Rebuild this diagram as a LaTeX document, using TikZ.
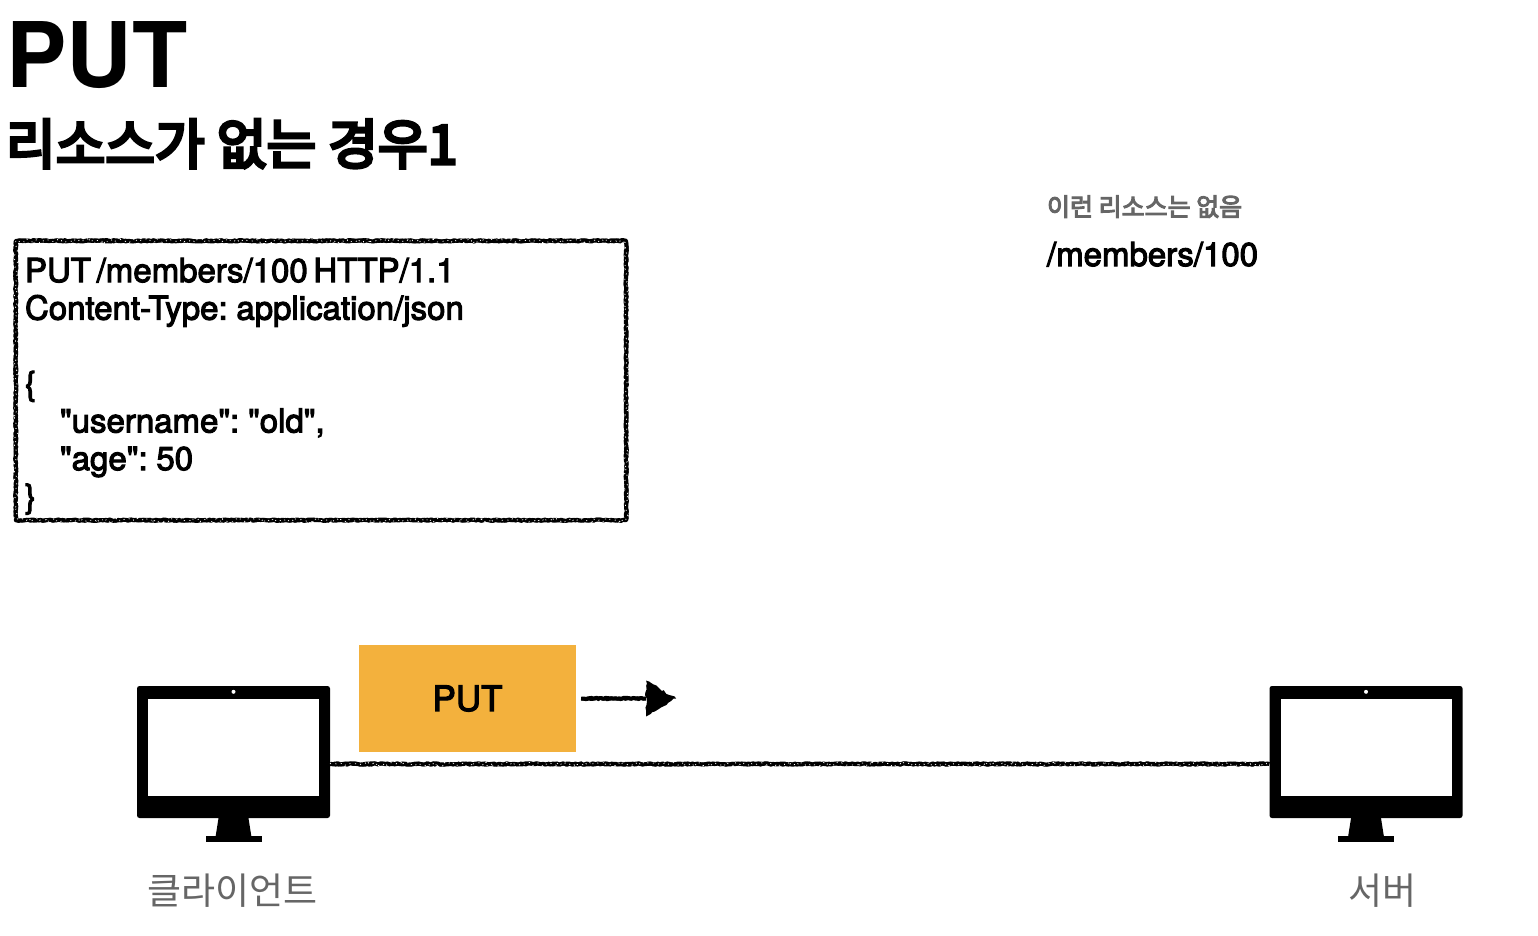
\documentclass[tikz,border=0pt]{standalone}
\usepackage{fontspec}
\setmainfont{TeX Gyre Heros}
\newfontfamily\medf[FakeBold=3.2,WordSpace=0.62]{TeX Gyre Heros}
\newfontfamily\krf{Noto Sans CJK KR}
\newfontfamily\krmed[FakeBold=6]{Noto Sans CJK KR}
\newfontfamily\krnote[FakeBold=4]{Noto Sans CJK KR}
\usetikzlibrary{decorations.pathmorphing}
\definecolor{putorange}{HTML}{F3B13D}
\definecolor{labelgray}{HTML}{666666}
\tikzset{
  roughline/.style={draw=black,line width=3.4pt,line join=round,line cap=butt,decorate,decoration={random steps,segment length=1.4pt,amplitude=1.0pt}},
  roughfine/.style={draw=black,line width=4pt,line join=round,line cap=butt,decorate,decoration={random steps,segment length=2.5pt,amplitude=0.7pt}},
  roughspeck/.style={draw=white,line width=0.7pt,dash pattern=on 1.2pt off 4.5pt,decorate,decoration={random steps,segment length=2pt,amplitude=2pt}},
  monitor/.style={draw=none,fill=black,rounded corners=2.5pt,minimum width=193pt,minimum height=132pt,inner sep=0pt},
  screen/.style={draw=none,fill=white,minimum width=171pt,minimum height=97pt,inner sep=0pt},
  txt/.style={inner sep=0pt,outer sep=0pt,anchor=base west,text=black},
  gray label/.style={inner sep=0pt,outer sep=0pt,anchor=base,text=labelgray},
}
\newcommand{\monitorparts}[1]{%
  \node[screen] at ([yshift=4.5pt]#1.center) {};
  \fill[white] ([yshift=-6pt]#1.north) circle (2pt);
  \fill[black] ([xshift=-15pt]#1.south) -- ([xshift=15pt]#1.south) -- ([xshift=18pt,yshift=-19pt]#1.south) -- ([xshift=-18pt,yshift=-19pt]#1.south) -- cycle;
  \fill[black] ([xshift=-28pt,yshift=-18pt]#1.south) rectangle ([xshift=28pt,yshift=-24pt]#1.south);
}
\begin{document}
\begin{tikzpicture}[x=1pt,y=-1pt]
\useasboundingbox (0,0) rectangle (1538,936);
\node[txt,font=\fontsize{90.5}{90.5}\selectfont\bfseries] (title) at (6.5,88) {PUT};
\node[txt,font=\krmed\fontsize{54}{54}\selectfont] (subtitle) at (6,164) {리소스가 없는 경우1};

\node[draw=none,minimum width=610pt,minimum height=279pt,inner sep=0pt] (req) at (321,380.5) {};
\draw[roughline] (req.north west) rectangle (req.south east);
\draw[roughfine] (req.north west) rectangle (req.south east);
\draw[roughspeck] (req.north west) rectangle (req.south east);
\node[inner sep=0pt,outer sep=0pt,anchor=north west,align=left,font=\medf\fontsize{33}{37.6}\selectfont] (reqtext) at (25,258)
 {PUT /members/100 HTTP/1.1\\Content-Type: application/json\\\strut\\\{\\\hspace*{35pt}"username": "old",\\\hspace*{35pt}"age": 50\\\}};

\node[txt,font=\krnote\fontsize{25}{25}\selectfont,text=labelgray] (note) at (1047,216) {이런 리소스는 없음};
\node[txt,font=\medf\fontsize{33}{33}\selectfont] (path) at (1047,266) {/members/100};

\node[monitor] (client) at (233.5,752) {};
\monitorparts{client}
\node[monitor] (server) at (1366,752) {};
\monitorparts{server}
\node[gray label,font=\krf\fontsize{37}{37}\selectfont] (clientlabel) at (232.5,904) {클라이언트};
\node[gray label,font=\krf\fontsize{37}{37}\selectfont] (serverlabel) at (1382.5,904) {서버};

\node[draw=none,fill=putorange,minimum width=217pt,minimum height=107pt,inner sep=0pt,font=\medf\fontsize{35}{35}\selectfont] (put) at (467.5,698.5) {\raisebox{-1pt}{PUT}};

\coordinate (tipbase) at (646,698.5);
\coordinate (tip) at (676,698.5);
\draw[roughline] ([xshift=5pt]put.east) -- (tipbase);
\draw[roughfine] ([xshift=5pt]put.east) -- (tipbase);
\fill[black,decorate,decoration={random steps,segment length=3pt,amplitude=1.2pt}] ([yshift=18pt]tipbase) -- (tip) -- ([yshift=-18pt]tipbase) -- cycle;

\draw[roughline] ([yshift=-12pt]client.east) -- ([yshift=-12pt]server.west);
\draw[roughfine] ([yshift=-12pt]client.east) -- ([yshift=-12pt]server.west);
\draw[roughspeck] ([yshift=-12pt]client.east) -- ([yshift=-12pt]server.west);
\end{tikzpicture}
\end{document}
